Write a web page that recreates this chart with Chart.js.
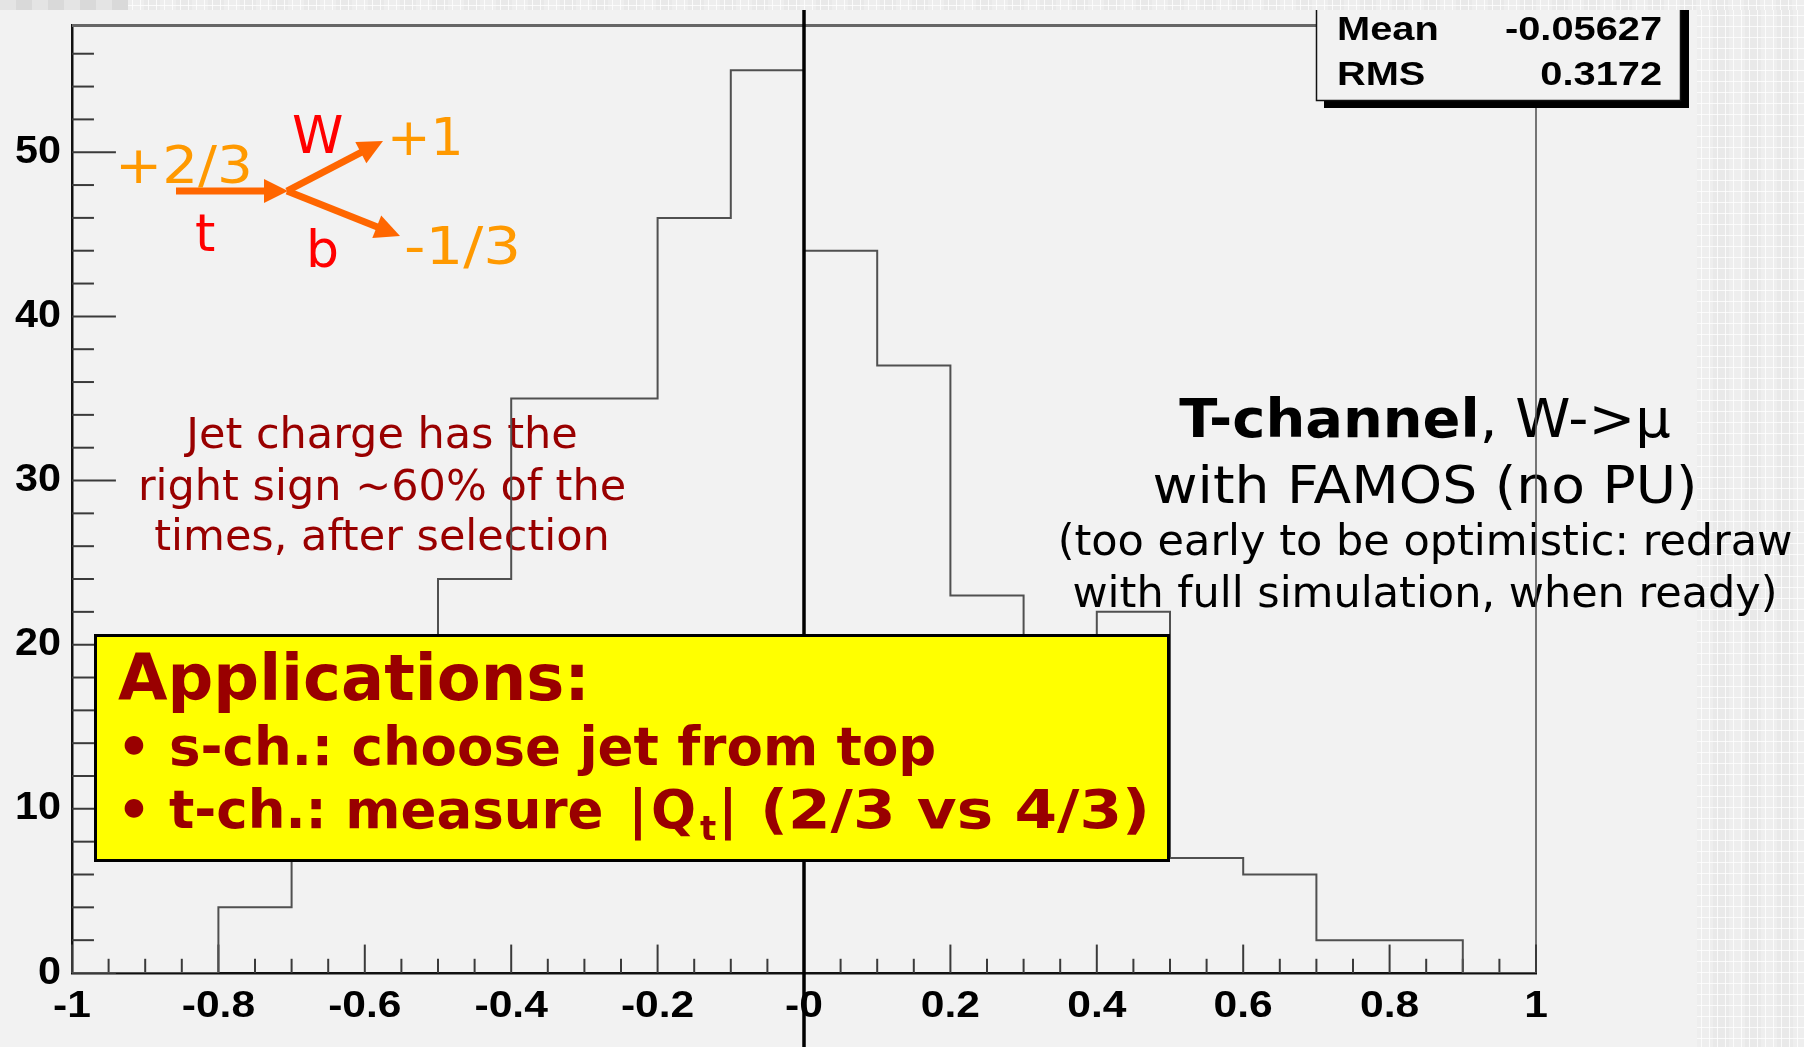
<!DOCTYPE html>
<html>
<head>
<meta charset="utf-8">
<title>Jet charge, T-channel W->mu</title>
<script src="https://cdn.jsdelivr.net/npm/chart.js@4.4.1/dist/chart.umd.min.js"></script>
<style>
  html, body { margin: 0; padding: 0; background: #f2f2f2; overflow: hidden; }
  canvas { display: block; }
</style>
</head>
<body>
<canvas id="c" width="1804" height="1047" style="width:1804px;height:1047px"></canvas>
<script>
// Jet charge of the b-jet, t-channel single top (W -> mu), FAMOS, no pile-up
const binLowEdges = [-1.0, -0.9, -0.8, -0.7, -0.6, -0.5, -0.4, -0.3, -0.2, -0.1,
                      0.0,  0.1,  0.2,  0.3,  0.4,  0.5,  0.6,  0.7,  0.8,  0.9];
const binCounts   = [0, 0, 4, 11, 18, 24, 35, 35, 46, 55,
                     44, 37, 23, 16, 22, 7, 6, 2, 2, 0];
const xUpperEdge  = 1.0;

const xTickValues = [-1, -0.8, -0.6, -0.4, -0.2, 0, 0.2, 0.4, 0.6, 0.8, 1];
const xTickLabels = ['-1', '-0.8', '-0.6', '-0.4', '-0.2', '-0', '0.2', '0.4', '0.6', '0.8', '1'];
const yTickValues = [0, 10, 20, 30, 40, 50];
const yTickLabels = ['0', '10', '20', '30', '40', '50'];

const statNames  = ['Mean', 'RMS'];
const statValues = ['-0.05627', '0.3172'];

const SANS = "'DejaVu Sans', Verdana, sans-serif";
const HELV = "'Liberation Sans', Arial, Helvetica, sans-serif";

// outline points of the histogram: one per bin low edge, closed at the upper edge
const histPoints = binLowEdges.map((x, i) => ({ x: x, y: binCounts[i] }))
  .concat([{ x: xUpperEdge, y: 0 }]);
const yTop = Math.max(...binCounts) * 1.05;

// text drawn with a horizontal stretch factor
function wideText(ctx, txt, x, y, align, sx) {
  ctx.save();
  ctx.translate(x, y);
  ctx.scale(sx, 1);
  ctx.textAlign = align;
  ctx.fillText(txt, 0, 0);
  ctx.restore();
}

// left-aligned text widened to a given advance width
function spanText(ctx, txt, x, y, width) {
  const w = ctx.measureText(txt).width;
  wideText(ctx, txt, x, y, 'left', Math.max(1, width / w));
}

function arrow(ctx, x0, y0, x1, y1, w, headLen, headHalf) {
  const a = Math.atan2(y1 - y0, x1 - x0);
  const c = Math.cos(a), s = Math.sin(a);
  const bx = x1 - headLen * c, by = y1 - headLen * s;
  ctx.lineWidth = w;
  ctx.lineCap = 'butt';
  ctx.beginPath(); ctx.moveTo(x0, y0); ctx.lineTo(bx + 2 * c, by + 2 * s); ctx.stroke();
  ctx.beginPath();
  ctx.moveTo(x1, y1);
  ctx.lineTo(bx + headHalf * s, by - headHalf * c);
  ctx.lineTo(bx - headHalf * s, by + headHalf * c);
  ctx.closePath();
  ctx.fill();
}

function slidePattern(ctx, x0, y0, x1, y1) {
  ctx.save();
  ctx.beginPath(); ctx.rect(x0, y0, x1 - x0, y1 - y0); ctx.clip();
  ctx.fillStyle = '#eeeeee';
  ctx.fillRect(x0, y0, x1 - x0, y1 - y0);
  for (let x = x0, k = 0; x < x1; x += 16, k++) {
    if (k % 2) { ctx.fillStyle = '#e9e9e9'; ctx.fillRect(x, y0, 16, y1 - y0); }
  }
  ctx.strokeStyle = 'rgba(255,255,255,0.75)';
  ctx.lineWidth = 1;
  for (let x = x0 + 4.5; x < x1; x += 8) { ctx.beginPath(); ctx.moveTo(x, y0); ctx.lineTo(x, y1); ctx.stroke(); }
  for (let y = y0 + 5.5; y < y1; y += 11) { ctx.beginPath(); ctx.moveTo(x0, y); ctx.lineTo(x1, y); ctx.stroke(); }
  ctx.restore();
}

const decorations = {
  id: 'decorations',
  beforeDraw(chart) {
    const ctx = chart.ctx;
    ctx.save();
    ctx.fillStyle = '#f2f2f2';
    ctx.fillRect(0, 0, chart.width, chart.height);
    // slide background strips
    slidePattern(ctx, 128, 0, chart.width, 10);
    slidePattern(ctx, 1697, 10, chart.width, chart.height);
    for (let i = 0; i < 8; i++) {
      ctx.fillStyle = i % 2 ? '#d9d9d9' : '#e4e4e4';
      ctx.fillRect(i * 16, 0, 16, 10);
    }

    // t -> W b decay sketch
    ctx.fillStyle = '#ff6600';
    ctx.strokeStyle = '#ff6600';
    arrow(ctx, 176, 191, 288, 191, 7, 24, 12);
    arrow(ctx, 287, 191, 383, 141, 7, 25, 12);
    arrow(ctx, 287, 191, 400, 236, 7, 25, 12);

    ctx.textAlign = 'left';
    ctx.textBaseline = 'alphabetic';
    ctx.font = `52px ${SANS}`;
    ctx.fillStyle = '#ff9900';
    spanText(ctx, '+2/3', 115, 183, 138);
    ctx.fillText('+1', 387, 155);
    spanText(ctx, '-1/3', 404, 264, 117);
    ctx.fillStyle = '#ff0000';
    ctx.fillText('W', 292, 153);
    ctx.fillText('t', 195, 251);
    ctx.fillText('b', 306, 267);

    // comment on the charge assignment
    ctx.fillStyle = '#990000';
    ctx.font = `43px ${SANS}`;
    ctx.textAlign = 'center';
    ctx.fillText('Jet charge has the', 382, 448);
    ctx.fillText('right sign ~60% of the', 382, 500);
    ctx.fillText('times, after selection', 382, 550);

    // sample description
    ctx.fillStyle = '#000000';
    ctx.textAlign = 'left';
    const sx1 = 1.055;
    ctx.font = `bold 53px ${SANS}`;
    const wA = ctx.measureText('T-channel').width * sx1;
    ctx.font = `53px ${SANS}`;
    const wB = ctx.measureText(', W->\u03bc').width * sx1;
    const x = 1425 - (wA + wB) / 2;
    ctx.font = `bold 53px ${SANS}`;
    wideText(ctx, 'T-channel', x, 437, 'left', sx1);
    ctx.font = `53px ${SANS}`;
    wideText(ctx, ', W->\u03bc', x + wA, 437, 'left', sx1);
    ctx.font = `52px ${SANS}`;
    wideText(ctx, 'with FAMOS (no PU)', 1425, 503, 'center', 1.06);
    ctx.textAlign = 'center';
    ctx.font = `43px ${SANS}`;
    ctx.fillText('(too early to be optimistic: redraw', 1425, 555);
    ctx.fillText('with full simulation, when ready)', 1425, 607);
    ctx.restore();
  },
  beforeDatasetsDraw(chart) {
    const ctx = chart.ctx;
    const a = chart.chartArea;
    const xs = chart.scales.x, ys = chart.scales.y;
    ctx.save();
    // upper and right frame
    ctx.strokeStyle = '#666666';
    ctx.lineWidth = 3;
    ctx.beginPath(); ctx.moveTo(a.left, a.top + 0.5); ctx.lineTo(a.right, a.top + 0.5); ctx.stroke();
    ctx.strokeStyle = '#555555';
    ctx.lineWidth = 1.6;
    ctx.beginPath(); ctx.moveTo(a.right, a.top); ctx.lineTo(a.right, a.bottom); ctx.stroke();

    // inward tick marks
    ctx.strokeStyle = '#3a3a3a';
    ctx.lineWidth = 2;
    const xMajorLen = 0.03 * (a.bottom - a.top);
    const yMajorLen = 0.03 * (a.right - a.left);
    for (let i = 0; i < xTickValues.length; i++) {
      const v0 = xTickValues[i];
      const px = xs.getPixelForValue(v0);
      ctx.beginPath(); ctx.moveTo(px, a.bottom); ctx.lineTo(px, a.bottom - xMajorLen); ctx.stroke();
      if (i < xTickValues.length - 1) {
        const step = (xTickValues[i + 1] - v0) / 4;
        for (let k = 1; k < 4; k++) {
          const p = xs.getPixelForValue(v0 + k * step);
          ctx.beginPath(); ctx.moveTo(p, a.bottom); ctx.lineTo(p, a.bottom - xMajorLen / 2); ctx.stroke();
        }
      }
    }
    const yStep = (yTickValues[1] - yTickValues[0]) / 5;
    for (let v = 0; v <= ys.max + 1e-9; v += yStep) {
      const py = ys.getPixelForValue(v);
      const major = Math.abs(v / 10 - Math.round(v / 10)) < 1e-6;
      ctx.beginPath(); ctx.moveTo(a.left, py); ctx.lineTo(a.left + (major ? yMajorLen : yMajorLen / 2), py); ctx.stroke();
    }

    // axis labels
    ctx.fillStyle = '#000000';
    ctx.textBaseline = 'alphabetic';
    ctx.font = `bold 37px ${HELV}`;
    xTickValues.forEach((v, i) => {
      wideText(ctx, xTickLabels[i], xs.getPixelForValue(v), a.bottom + 44, 'center', 1.15);
    });
    ctx.font = `bold 39px ${HELV}`;
    yTickValues.forEach((v, i) => {
      wideText(ctx, yTickLabels[i], a.left - 11, ys.getPixelForValue(v) + 10.5, 'right', 1.06);
    });
    ctx.restore();
  },
  afterDraw(chart) {
    const ctx = chart.ctx;
    const xs = chart.scales.x;
    ctx.save();
    // zero line
    const x0 = xs.getPixelForValue(0);
    ctx.strokeStyle = '#000000';
    ctx.lineWidth = 3.5;
    ctx.beginPath(); ctx.moveTo(x0, 10); ctx.lineTo(x0, chart.height); ctx.stroke();

    // applications box
    ctx.fillStyle = '#ffff00';
    ctx.fillRect(95, 635, 1074, 226);
    ctx.strokeStyle = '#000000';
    ctx.lineWidth = 3;
    ctx.strokeRect(95.5, 635.5, 1073, 225);
    ctx.fillStyle = '#990000';
    ctx.textAlign = 'left';
    ctx.textBaseline = 'alphabetic';
    ctx.font = `bold 64px ${SANS}`;
    ctx.fillText('Applications:', 118, 700);
    ctx.font = `bold 53px ${SANS}`;
    ctx.fillText('\u2022', 117, 765);
    ctx.fillText('s-ch.: choose jet from top', 169, 765);
    ctx.fillText('\u2022', 117, 828);
    ctx.fillText('t-ch.: measure', 169, 828);
    ctx.textAlign = 'center';
    ctx.fillText('|', 638, 828);
    ctx.fillText('|', 728, 828);
    ctx.textAlign = 'left';
    ctx.fillText('Q', 651, 828);
    ctx.font = `bold 34px ${SANS}`;
    ctx.fillText('t', 700, 840);
    ctx.font = `bold 53px ${SANS}`;
    spanText(ctx, '(2/3 vs 4/3)', 760, 828, 390);

    // statistics box
    ctx.fillStyle = '#000000';
    ctx.fillRect(1324, 10, 365, 98);
    ctx.fillStyle = '#f2f2f2';
    ctx.fillRect(1316, 10, 365, 91);
    ctx.strokeStyle = '#111111';
    ctx.lineWidth = 1.5;
    ctx.beginPath();
    ctx.moveTo(1316.5, 10); ctx.lineTo(1316.5, 100.5); ctx.lineTo(1680.5, 100.5); ctx.lineTo(1680.5, 10);
    ctx.stroke();
    ctx.fillStyle = '#000000';
    ctx.font = `bold 34px ${HELV}`;
    statNames.forEach((n, i) => {
      const by = 40 + i * 45;
      wideText(ctx, n, 1337, by, 'left', 1.17);
      wideText(ctx, statValues[i], 1662, by, 'right', 1.17);
    });
    ctx.restore();
  }
};

function build() {
  new Chart(document.getElementById('c'), {
    type: 'line',
    data: {
      datasets: [{
        data: histPoints,
        stepped: 'before',
        borderColor: '#505050',
        borderWidth: 2,
        pointRadius: 0,
        fill: false
      }]
    },
    options: {
      responsive: false,
      animation: false,
      events: [],
      layout: { padding: { top: 25, right: 268, left: 0, bottom: 0 } },
      plugins: { legend: { display: false }, tooltip: { enabled: false } },
      scales: {
        x: {
          type: 'linear', min: -1, max: 1,
          ticks: { display: false, stepSize: 0.2 },
          grid: { display: false, drawTicks: false },
          border: { display: true, color: '#111111', width: 2.5 },
          afterFit: (s) => { s.height = 74; }
        },
        y: {
          type: 'linear', min: 0, max: yTop,
          ticks: { display: false, stepSize: 10 },
          grid: { display: false, drawTicks: false },
          border: { display: true, color: '#111111', width: 2.5 },
          afterFit: (s) => { s.width = 72; }
        }
      }
    },
    plugins: [decorations]
  });
}

const fontsReady = document.fonts ? Promise.all([
  document.fonts.load(`40px ${SANS}`),
  document.fonts.load(`bold 40px ${SANS}`),
  document.fonts.load(`bold 40px ${HELV}`)
]).catch(() => null) : Promise.resolve();
fontsReady.then(build);
</script>
</body>
</html>
